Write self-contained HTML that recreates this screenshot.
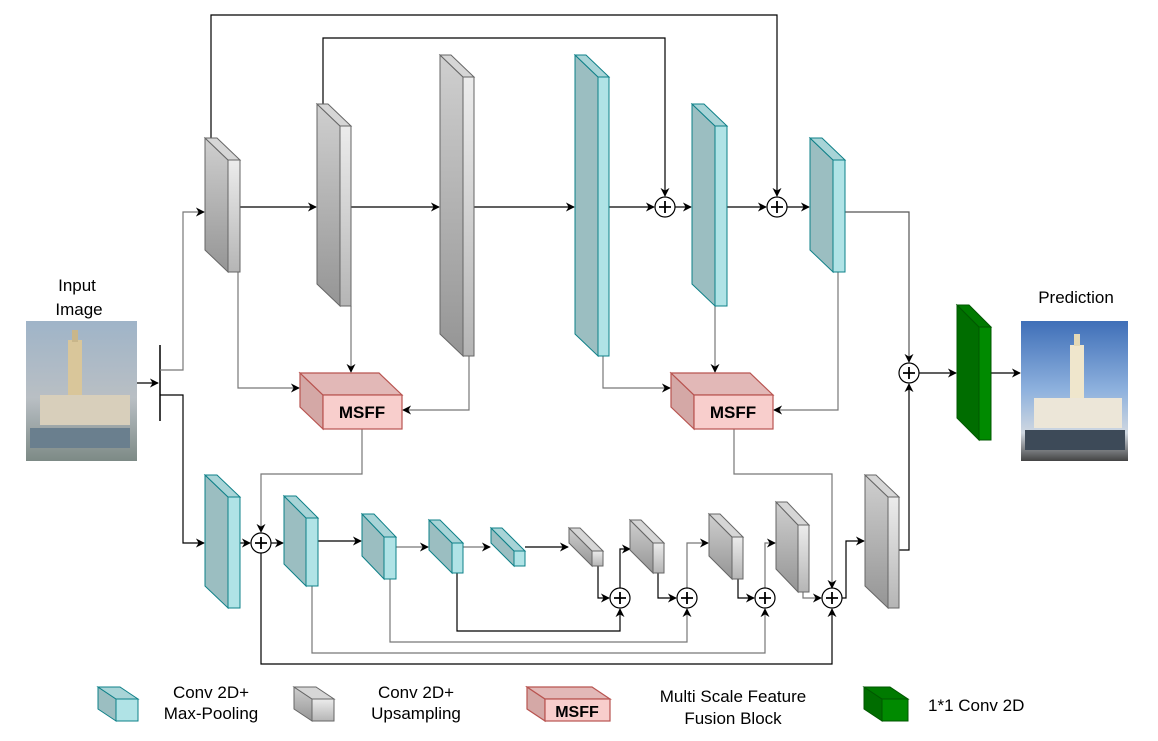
<!DOCTYPE html>
<html><head><meta charset="utf-8"><style>
html,body{margin:0;padding:0;background:#fff}
svg{display:block}
text{font-family:"Liberation Sans",sans-serif}
</style></head><body>
<svg width="1158" height="741" viewBox="0 0 1158 741" xmlns="http://www.w3.org/2000/svg">
<defs>
<marker id="a" viewBox="0 0 10 10" refX="9" refY="5" markerWidth="9" markerHeight="9" orient="auto" markerUnits="userSpaceOnUse"><path d="M0,0 L10,5 L0,10 L3,5 z" fill="#000"/></marker>
<linearGradient id="gs" x1="0" y1="0" x2="0" y2="1"><stop offset="0" stop-color="#cfcfcf"/><stop offset="1" stop-color="#959595"/></linearGradient>
<linearGradient id="gf" x1="0" y1="0" x2="0" y2="1"><stop offset="0" stop-color="#ececec"/><stop offset="1" stop-color="#b5b5b5"/></linearGradient>
<linearGradient id="in" x1="0" y1="0" x2="0" y2="1"><stop offset="0" stop-color="#9fb4c8"/><stop offset="0.55" stop-color="#b9bfc4"/><stop offset="1" stop-color="#7d8a86"/></linearGradient>
<linearGradient id="out" x1="0" y1="0" x2="0" y2="1"><stop offset="0" stop-color="#3f6fb8"/><stop offset="0.5" stop-color="#8fb2de"/><stop offset="0.8" stop-color="#cfd7e0"/><stop offset="1" stop-color="#444"/></linearGradient>
</defs>

<rect x="26" y="321" width="111" height="140" fill="url(#in)"/>
<rect x="68" y="340" width="14" height="80" fill="#d9c69a"/><rect x="72" y="330" width="6" height="12" fill="#c9b68a"/>
<rect x="40" y="395" width="90" height="30" fill="#d8cfbb"/><rect x="30" y="428" width="100" height="20" fill="#6a7f8e"/>
<rect x="1021" y="321" width="107" height="140" fill="url(#out)"/>
<rect x="1070" y="345" width="14" height="80" fill="#efe6cc"/><rect x="1074" y="334" width="6" height="12" fill="#e4d9b6"/>
<rect x="1034" y="398" width="88" height="30" fill="#ece6d8"/><rect x="1025" y="430" width="100" height="20" fill="#3d4a58"/>

<text x="77" y="291" font-size="17" text-anchor="middle">Input</text>
<text x="79" y="315" font-size="17" text-anchor="middle">Image</text>
<text x="1076" y="303" font-size="17" text-anchor="middle">Prediction</text>

<g fill="none" stroke="#000" stroke-width="1.2">
<line x1="137" y1="383" x2="158" y2="383" marker-end="url(#a)"/>
<line x1="160" y1="345" x2="160" y2="421" stroke-width="1.5"/>
<polyline points="160,370 183,370 183,212 204,212" marker-end="url(#a)" stroke="#777"/>
<polyline points="160,395 183,395 183,543 204,543" marker-end="url(#a)"/>
<line x1="240" y1="207" x2="316" y2="207" marker-end="url(#a)"/>
<line x1="351" y1="207" x2="439" y2="207" marker-end="url(#a)"/>
<line x1="474" y1="207" x2="574" y2="207" marker-end="url(#a)"/>
<line x1="609" y1="207" x2="654" y2="207" marker-end="url(#a)"/>
<line x1="675" y1="207" x2="691" y2="207" marker-end="url(#a)"/>
<line x1="727" y1="207" x2="766" y2="207" marker-end="url(#a)"/>
<line x1="787" y1="207" x2="809" y2="207" marker-end="url(#a)"/>
<polyline points="211,138 211,15 777,15 777,196" marker-end="url(#a)"/>
<polyline points="323,104 323,38 665,38 665,196" marker-end="url(#a)"/>
<polyline points="845,212 909,212 909,362" marker-end="url(#a)" stroke="#555"/>
<line x1="919" y1="373" x2="956" y2="373" marker-end="url(#a)"/>
<line x1="991" y1="373" x2="1020" y2="373" marker-end="url(#a)"/>
<polyline points="238,272 238,388 299,388" marker-end="url(#a)" stroke="#777"/>
<polyline points="351,306 351,372" marker-end="url(#a)" stroke="#777"/>
<polyline points="469,356 469,410 403,410" marker-end="url(#a)" stroke="#777"/>
<polyline points="603,356 603,388 670,388" marker-end="url(#a)" stroke="#777"/>
<polyline points="715,306 715,372" marker-end="url(#a)" stroke="#777"/>
<polyline points="838,272 838,410 774,410" marker-end="url(#a)" stroke="#777"/>
<polyline points="362,429 362,474 261,474 261,532" marker-end="url(#a)" stroke="#777"/>
<polyline points="734,429 734,474 832,474 832,588" marker-end="url(#a)" stroke="#777"/>
<line x1="240" y1="543" x2="250" y2="543" marker-end="url(#a)"/>
<line x1="271" y1="543" x2="283" y2="543" marker-end="url(#a)"/>
<line x1="318" y1="541" x2="361" y2="541" marker-end="url(#a)"/>
<line x1="396" y1="547" x2="428" y2="547" marker-end="url(#a)" stroke="#777"/>
<line x1="463" y1="547" x2="490" y2="547" marker-end="url(#a)" stroke="#777"/>
<line x1="525" y1="547" x2="568" y2="547" marker-end="url(#a)"/>
<polyline points="598,566 598,598 609,598" marker-end="url(#a)"/>
<polyline points="620,588 620,549 630,549" marker-end="url(#a)"/>
<polyline points="658,573 658,598 676,598" marker-end="url(#a)"/>
<polyline points="687,588 687,543 708,543" marker-end="url(#a)" stroke="#777"/>
<polyline points="738,579 738,598 754,598" marker-end="url(#a)"/>
<polyline points="765,588 765,543 775,543" marker-end="url(#a)" stroke="#777"/>
<polyline points="803,592 803,598 821,598" marker-end="url(#a)" stroke="#777"/>
<polyline points="842,598 846,598 846,541 864,541" marker-end="url(#a)"/>
<polyline points="457,573 457,631 620,631 620,609" marker-end="url(#a)"/>
<polyline points="390,579 390,642 687,642 687,609" marker-end="url(#a)" stroke="#777"/>
<polyline points="312,586 312,653 765,653 765,609" marker-end="url(#a)" stroke="#777"/>
<polyline points="261,553 261,664 832,664 832,609" marker-end="url(#a)"/>
<polyline points="899,550 909,550 909,384" marker-end="url(#a)"/>
</g>

<g fill="#fff" stroke="#000" stroke-width="1.2">
<circle cx="665" cy="207" r="10"/><circle cx="777" cy="207" r="10"/><circle cx="909" cy="373" r="10"/>
<circle cx="261" cy="543" r="10"/><circle cx="620" cy="598" r="10"/><circle cx="687" cy="598" r="10"/><circle cx="765" cy="598" r="10"/><circle cx="832" cy="598" r="10"/>
</g>
<g stroke="#000" stroke-width="1.8">
<path d="M659,207h12M665,201v12M771,207h12M777,201v12M903,373h12M909,367v12M255,543h12M261,537v12M614,598h12M620,592v12M681,598h12M687,592v12M759,598h12M765,592v12M826,598h12M832,592v12"/>
</g>

<g stroke="#666" stroke-width="1">
<g fill="url(#gs)">
<polygon points="205,138 228,160 228,272 205,250"/>
<polygon points="317,104 340,126 340,306 317,284"/>
<polygon points="440,55 463,77 463,356 440,334"/>
<polygon points="569,528 592,551 592,566 569,543"/>
<polygon points="630,520 653,543 653,573 630,550"/>
<polygon points="709,514 732,537 732,579 709,556"/>
<polygon points="776,502 798,525 798,592 776,569"/>
<polygon points="865,475 888,497 888,608 865,586"/>
<polygon points="294,687 312,699 312,721 294,709"/>
</g>
<g fill="#d6d6d6">
<polygon points="205,138 217,138 240,160 228,160"/>
<polygon points="317,104 328,104 351,126 340,126"/>
<polygon points="440,55 451,55 474,77 463,77"/>
<polygon points="569,528 580,528 603,551 592,551"/>
<polygon points="630,520 641,520 664,543 653,543"/>
<polygon points="709,514 720,514 743,537 732,537"/>
<polygon points="776,502 787,502 809,525 798,525"/>
<polygon points="865,475 876,475 899,497 888,497"/>
<polygon points="294,687 316,687 334,699 312,699"/>
</g>
<g fill="url(#gf)">
<rect x="228" y="160" width="12" height="112"/>
<rect x="340" y="126" width="11" height="180"/>
<rect x="463" y="77" width="11" height="279"/>
<rect x="592" y="551" width="11" height="15"/>
<rect x="653" y="543" width="11" height="30"/>
<rect x="732" y="537" width="11" height="42"/>
<rect x="798" y="525" width="11" height="67"/>
<rect x="888" y="497" width="11" height="111"/>
<rect x="312" y="699" width="22" height="22"/>
</g>
</g>

<g stroke="#0e8088" stroke-width="1">
<g fill="#9bbec1">
<polygon points="575,55 598,77 598,356 575,334"/>
<polygon points="692,104 715,126 715,306 692,284"/>
<polygon points="810,138 833,160 833,272 810,250"/>
<polygon points="205,475 228,497 228,608 205,586"/>
<polygon points="284,496 306,518 306,586 284,564"/>
<polygon points="362,514 384,537 384,579 362,556"/>
<polygon points="429,520 452,543 452,573 429,550"/>
<polygon points="491,528 514,551 514,566 491,543"/>
<polygon points="98,687 116,699 116,721 98,709"/>
</g>
<g fill="#a8d4d7">
<polygon points="575,55 586,55 609,77 598,77"/>
<polygon points="692,104 704,104 727,126 715,126"/>
<polygon points="810,138 822,138 845,160 833,160"/>
<polygon points="205,475 217,475 240,497 228,497"/>
<polygon points="284,496 296,496 318,518 306,518"/>
<polygon points="362,514 374,514 396,537 384,537"/>
<polygon points="429,520 440,520 463,543 452,543"/>
<polygon points="491,528 502,528 525,551 514,551"/>
<polygon points="98,687 120,687 138,699 116,699"/>
</g>
<g fill="#b0e3e6">
<rect x="598" y="77" width="11" height="279"/>
<rect x="715" y="126" width="12" height="180"/>
<rect x="833" y="160" width="12" height="112"/>
<rect x="228" y="497" width="12" height="111"/>
<rect x="306" y="518" width="12" height="68"/>
<rect x="384" y="537" width="12" height="42"/>
<rect x="452" y="543" width="11" height="30"/>
<rect x="514" y="551" width="11" height="15"/>
<rect x="116" y="699" width="22" height="22"/>
</g>
</g>

<g stroke="#005700" stroke-width="1">
<polygon points="957,305 979,327 979,440 957,418" fill="#006d00"/>
<polygon points="957,305 969,305 991,327 979,327" fill="#007a00"/>
<rect x="979" y="327" width="12" height="113" fill="#008a00"/>
<polygon points="864,687 882,699 882,721 864,709" fill="#006d00"/>
<polygon points="864,687 890,687 908,699 882,699" fill="#007a00"/>
<rect x="882" y="699" width="26" height="22" fill="#008a00"/>
</g>

<g stroke="#b85450" stroke-width="1.2">
<polygon points="300,373 323,395 323,429 300,407" fill="#d4a8a6"/>
<polygon points="300,373 379,373 402,395 323,395" fill="#e2b8b7"/>
<rect x="323" y="395" width="79" height="34" fill="#f8cecc"/>
<polygon points="671,373 694,395 694,429 671,407" fill="#d4a8a6"/>
<polygon points="671,373 750,373 773,395 694,395" fill="#e2b8b7"/>
<rect x="694" y="395" width="79" height="34" fill="#f8cecc"/>
<polygon points="527,687 545,699 545,721 527,709" fill="#d4a8a6"/>
<polygon points="527,687 592,687 610,699 545,699" fill="#e2b8b7"/>
<rect x="545" y="699" width="65" height="22" fill="#f8cecc"/>
</g>
<text x="362" y="418" font-size="17" font-weight="bold" text-anchor="middle">MSFF</text>
<text x="733" y="418" font-size="17" font-weight="bold" text-anchor="middle">MSFF</text>
<text x="577" y="717" font-size="16" font-weight="bold" text-anchor="middle">MSFF</text>

<g font-size="17" text-anchor="middle">
<text x="211" y="698">Conv 2D+</text>
<text x="211" y="719">Max-Pooling</text>
<text x="416" y="698">Conv 2D+</text>
<text x="416" y="719">Upsampling</text>
<text x="733" y="702">Multi Scale Feature</text>
<text x="733" y="724">Fusion Block</text>
</g>
<text x="928" y="711" font-size="17">1*1 Conv 2D</text>
</svg>
</body></html>
